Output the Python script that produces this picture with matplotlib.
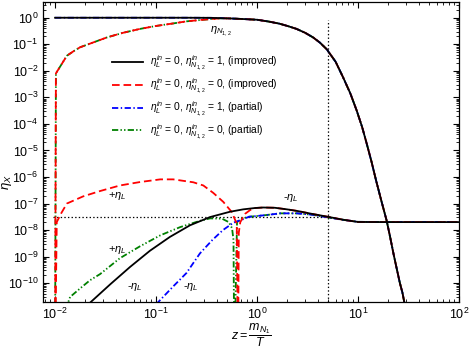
import numpy as np
import matplotlib
matplotlib.use("Agg")
import matplotlib.pyplot as plt
from matplotlib.ticker import LogLocator, NullFormatter

plt.rcParams['font.family'] = ['Liberation Sans', 'DejaVu Sans']
plt.rcParams['mathtext.fontset'] = 'custom'
plt.rcParams['mathtext.rm'] = 'Liberation Sans'
plt.rcParams['mathtext.it'] = 'Liberation Sans:italic'
plt.rcParams['mathtext.bf'] = 'Liberation Sans:bold'
plt.rcParams['axes.unicode_minus'] = False
plt.rcParams['lines.scale_dashes'] = False

# heavy neutrino abundances eta_N1,2
z_N1 = [0.01, 0.2, 0.35, 0.54, 0.7, 1.0, 1.3, 1.66, 2.0, 2.46, 3.0, 3.6, 4.2, 4.9,
        6.0, 7.1, 8.4, 9.7, 11, 12.2, 13.6, 15.1, 17, 19.2, 20.8, 22.4, 24, 26,
        27.5, 29.2, 31]
N_in1 = [1.0, 1.0, 0.99, 0.94, 0.9, 0.84, 0.72, 0.6, 0.49, 0.38, 0.27, 0.18, 0.115,
         0.065, 0.022, 5.8e-3, 1.4e-3, 3.2e-4, 7.5e-5, 1.8e-5, 3.8e-6, 7.4e-7,
         1.3e-7, 2.3e-8, 5.5e-9, 1.35e-9, 4e-10, 1e-10, 4.5e-11, 1.4e-11, 5e-12]
# start of the eta_N^in = 0 runs, afterwards they sit on the eta_N^in = 1 curve
z_N0_start = [0.01, 0.0102, 0.0131, 0.0155, 0.0177, 0.024, 0.0325, 0.047, 0.0695,
              0.1, 0.148, 0.2, 0.273, 0.35, 0.43]
N_in0_start = [1e-13, 8e-3, 0.037, 0.057, 0.077, 0.118, 0.18, 0.27, 0.38, 0.49,
               0.61, 0.73, 0.82, 0.89, 0.95]
z_N0 = z_N0_start + z_N1[3:]
N_in0 = N_in0_start + N_in1[3:]

# |eta_L| curves
z_L_imp1 = [0.0213, 0.0353, 0.0553, 0.0870, 0.137, 0.217, 0.343, 0.54, 0.73, 0.95,
            1.15, 1.5, 1.98, 2.5, 3.5, 5.2, 7.1, 10, 20, 100]
L_imp1 = [10**-10.8, 10**-10.04, 10**-9.39, 10**-8.78, 10**-8.26, 10**-7.82,
          10**-7.51, 10**-7.31, 10**-7.22, 10**-7.17, 10**-7.15, 10**-7.16,
          10**-7.22, 10**-7.28, 10**-7.39, 10**-7.51, 10**-7.61, 10**-7.695,
          10**-7.7, 10**-7.7]

z_L_imp0 = [0.01, 0.0104, 0.0115, 0.0131, 0.019, 0.0279, 0.0439, 0.0695, 0.11, 0.148,
            0.234, 0.294, 0.369, 0.464, 0.562, 0.63, 0.648, 0.66, 0.683, 0.766,
            0.852] + z_L_imp1[9:]
L_imp0 = [1e-13, 10**-7.7, 10**-7.37, 10**-7.0, 10**-6.73, 10**-6.53, 10**-6.32,
          10**-6.19, 10**-6.09, 10**-6.09, 10**-6.2, 10**-6.32, 10**-6.6, 10**-6.94,
          10**-7.32, 10**-7.76, 1e-13, 10**-8.1, 10**-7.7, 10**-7.38,
          10**-7.25] + L_imp1[9:]

z_L_par1 = [0.1, 0.15, 0.2, 0.272, 0.36, 0.46, 0.585, 0.72, 0.83, 1.2, 1.7, 2.5, 3.5,
            5.0, 7.0, 10, 20, 100]
L_par1 = [10**-10.8, 10**-10.1, 10**-9.62, 10**-8.88, 10**-8.38, 10**-8.0, 10**-7.72,
          10**-7.6, 10**-7.5, 10**-7.44, 10**-7.37, 10**-7.37, 10**-7.42, 10**-7.52,
          10**-7.61, 10**-7.69, 10**-7.7, 10**-7.7]

z_L_par0 = [0.0127, 0.0141, 0.0177, 0.0222, 0.0279, 0.0439, 0.0695, 0.11, 0.173,
            0.273, 0.343, 0.45, 0.525, 0.566, 0.585, 0.596, 0.634, 0.71] + z_L_par1[8:]
L_par0 = [1e-11, 10**-10.52, 10**-10.2, 10**-9.89, 10**-9.66, 10**-9.06, 10**-8.61,
          10**-8.2, 10**-7.89, 10**-7.65, 10**-7.56, 10**-7.57, 10**-7.7, 10**-7.93,
          10**-8.38, 1e-13, 10**-7.7, 10**-7.57] + L_par1[8:]

eta_obs = 3e-8
z_end = 5

fig = plt.figure(figsize=(4.71, 3.5), dpi=100)
ax = fig.add_axes([0.0913, 0.138, 0.8832, 0.857])

red_dash = (5.5, 2.8)
blue_dd = (4.5, 1.8, 1.0, 1.8)
green_ddd = (4.5, 1.6, 1.0, 1.6, 1.0, 1.6)
lw = 1.3

# reference lines
ax.plot([0.0095, z_end], [eta_obs, eta_obs], color='black', lw=0.9, dashes=(1, 1.6))
ax.plot([z_end, z_end], [2e-11, 0.8], color='black', lw=0.9, dashes=(1, 1.6))

ax.plot(z_N0, N_in0, color='#008000', lw=lw, dashes=green_ddd)
ax.plot(z_L_par0, L_par0, color='#008000', lw=lw, dashes=green_ddd)
ax.plot(z_N1, N_in1, color='blue', lw=lw, dashes=blue_dd)
ax.plot(z_L_par1, L_par1, color='blue', lw=lw, dashes=blue_dd)
ax.plot(z_N0, N_in0, color='red', lw=lw, dashes=red_dash)
ax.plot(z_L_imp0, L_imp0, color='red', lw=lw, dashes=red_dash)
ax.plot(z_N1, N_in1, color='black', lw=lw)
ax.plot(z_L_imp1, L_imp1, color='black', lw=lw)

ax.set_xscale('log')
ax.set_yscale('log')
ax.set_xlim(0.0076, 100)
ax.set_ylim(2e-11, 4)
ax.set_yticks([10.0**k for k in range(-10, 1)])
ax.yaxis.set_minor_locator(LogLocator(base=10, subs=np.arange(2, 10), numticks=100))
ax.xaxis.set_minor_locator(LogLocator(base=10, subs=np.arange(2, 10), numticks=100))
ax.yaxis.set_minor_formatter(NullFormatter())
ax.xaxis.set_minor_formatter(NullFormatter())
ax.tick_params(which='both', direction='in', top=True, right=True, labelsize=9)
ax.tick_params(which='major', length=4.5, width=0.8)
ax.tick_params(which='minor', length=2.2, width=0.6)
for s in ax.spines.values():
    s.set_linewidth(0.9)

ax.set_ylabel(r'$\eta_X$', fontsize=9.5)
ax.yaxis.set_label_coords(-0.07, 0.40)
ax.set_xlabel(r'$z = \dfrac{m_{N_1}}{T}$', fontsize=9, labelpad=0)

# curve labels
ax.text(0.345, 0.3, r'$\eta_{N_{1,2}}$', fontsize=8, va='center')
ax.text(0.0336, 2e-7, r'+$\eta_L$', fontsize=8, va='center')
ax.text(0.0336, 1.7e-9, r'+$\eta_L$', fontsize=8, va='center')
ax.text(0.0516, 7e-11, r'-$\eta_L$', fontsize=8, va='center')
ax.text(0.185, 7e-11, r'-$\eta_L$', fontsize=8, va='center')
ax.text(1.81, 1.6e-7, r'-$\eta_L$', fontsize=8, va='center')

h1, = ax.plot([], [], color='black', lw=lw)
h2, = ax.plot([], [], color='red', lw=lw, dashes=red_dash)
h3, = ax.plot([], [], color='blue', lw=lw, dashes=blue_dd)
h4, = ax.plot([], [], color='#008000', lw=lw, dashes=green_ddd)
labels = [r'$\eta_L^{in}$ = 0, $\eta_{N_{1,2}}^{in}$ = 1, (improved)',
          r'$\eta_L^{in}$ = 0, $\eta_{N_{1,2}}^{in}$ = 0, (improved)',
          r'$\eta_L^{in}$ = 0, $\eta_{N_{1,2}}^{in}$ = 1, (partial)',
          r'$\eta_L^{in}$ = 0, $\eta_{N_{1,2}}^{in}$ = 0, (partial)']
ax.legend([h1, h2, h3, h4], labels, loc='upper left', bbox_to_anchor=(0.166, 0.826),
          frameon=False, fontsize=7.4, handlelength=3.0, handletextpad=0.7,
          labelspacing=0.42, borderpad=0, borderaxespad=0)

fig.savefig('out.png', dpi=100)
